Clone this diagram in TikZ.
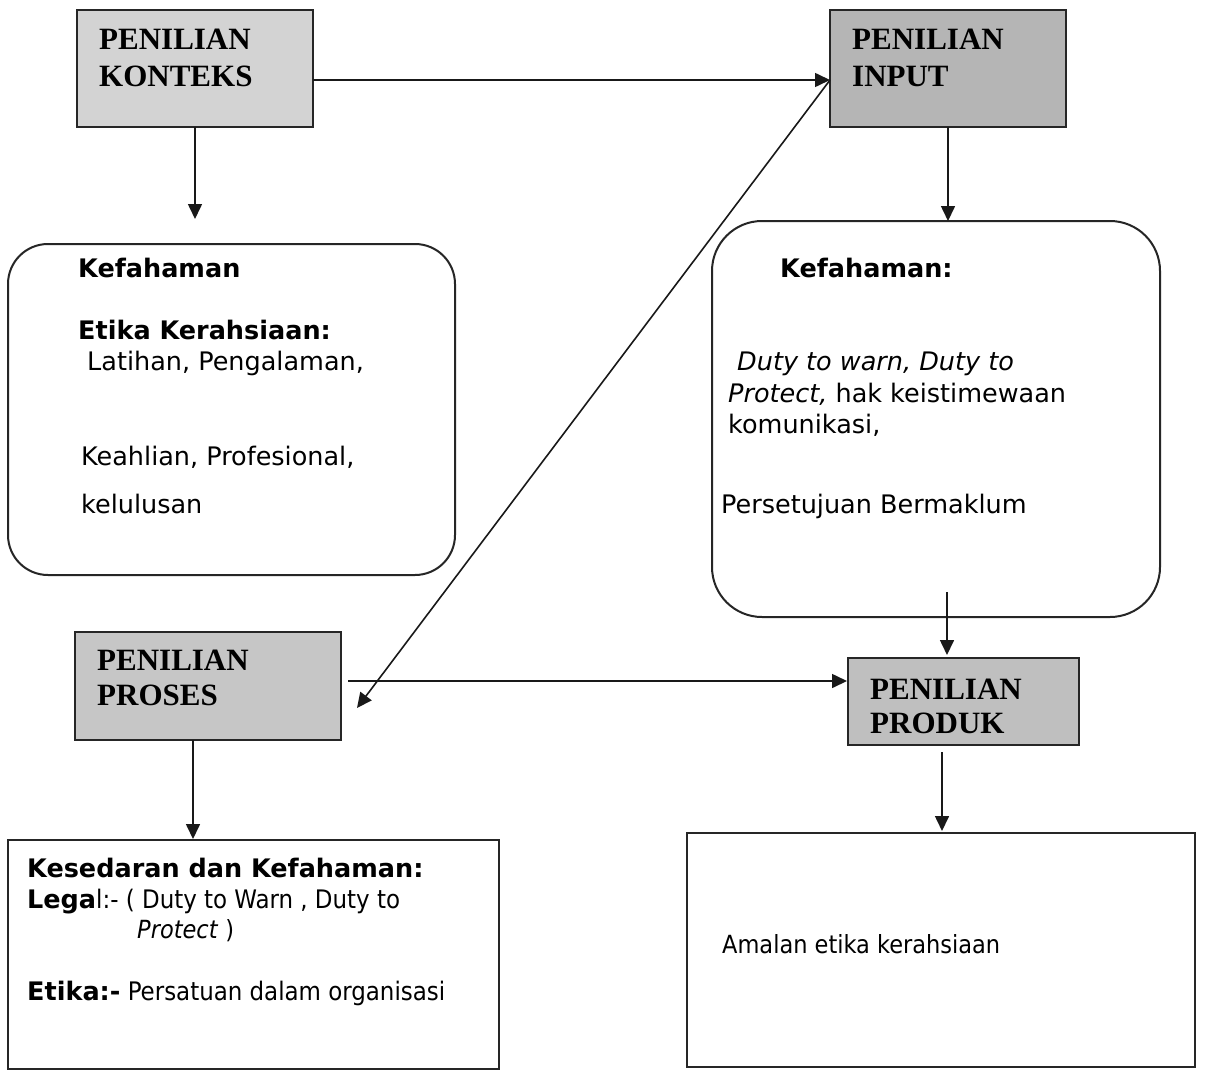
\documentclass[tikz,border=0pt]{standalone}
\usepackage{fontspec}
\setmainfont{DejaVu Sans}
\newfontfamily\headfont{Liberation Serif}
\newfontfamily\tahoma{DejaVu Sans Condensed}
\usetikzlibrary{arrows.meta}
\definecolor{gK}{HTML}{D3D3D3}
\definecolor{gI}{HTML}{B5B5B5}
\definecolor{gP}{HTML}{C6C6C6}
\definecolor{gD}{HTML}{BFBFBF}
\begin{document}
\begin{tikzpicture}[x=1pt,y=-1pt,
  hbox/.style={draw=black!85, line width=2pt, inner sep=0pt, outer sep=0pt, anchor=north west},
  rbox/.style={draw=black!85, line width=2pt, inner sep=0pt, outer sep=0pt, anchor=north west},
  head/.style={font=\headfont\bfseries\fontsize{31}{31}\selectfont, anchor=base west, inner sep=0pt},
  body/.style={font=\fontsize{25.5}{30}\selectfont, anchor=base west, inner sep=0pt},
  bodyb/.style={font=\bfseries\fontsize{25.5}{30}\selectfont, anchor=base west, inner sep=0pt},
  tah/.style={font=\tahoma\fontsize{25}{30}\selectfont, anchor=base west, inner sep=0pt},
  arr/.style={line width=1.6pt, draw=black!90, -{Triangle[length=15pt,width=14pt]}}]
\useasboundingbox[fill=white] (0,0) rectangle (1214,1073);

% heading boxes
\node[hbox, fill=gK, minimum width=236pt, minimum height=117pt] (konteks) at (77,10) {};
\node[hbox, fill=gI, minimum width=236pt, minimum height=117pt] (input) at (830,10) {};
\node[hbox, fill=gP, minimum width=266pt, minimum height=108pt] (proses) at (75,632) {};
\node[hbox, fill=gD, minimum width=231pt, minimum height=87pt] (produk) at (848,658) {};

\node[head] (kt1) at (99,50) {PENILIAN};
\node[head] (kt2) at (99,86) {KONTEKS};
\node[head] (it1) at (852,50) {PENILIAN};
\node[head] (it2) at (852,86) {INPUT};
\node[head] (pt1) at (97,670) {PENILIAN};
\node[head] (pt2) at (97,705) {PROSES};
\node[head] (dt1) at (870,699) {PENILIAN};
\node[head] (dt2) at (870,733) {PRODUK};

% rounded boxes
\node[rbox, rounded corners=40pt, minimum width=447pt, minimum height=331pt] (lbox) at (8,244) {};
\node[rbox, rounded corners=50pt, minimum width=448pt, minimum height=396pt] (rboxn) at (712,221) {};

\node[bodyb] (l1) at (78,277) {Kefahaman};
\node[bodyb] (l2) at (78,339) {Etika Kerahsiaan:};
\node[body] (l3) at (87,370) {Latihan, Pengalaman,};
\node[body] (l4) at (81,465) {Keahlian, Profesional,};
\node[body] (l5) at (81,513) {kelulusan};

\node[bodyb] (r1) at (780,277) {Kefahaman:};
\node[body] (r2) at (737,370) {\itshape Duty to warn, Duty to};
\node[body] (r3) at (728,402) {{\itshape Protect,} hak keistimewaan};
\node[body] (r4) at (728,433) {komunikasi,};
\node[body] (r5) at (721,513) {Persetujuan Bermaklum};

% bottom boxes
\node[hbox, fill=white, minimum width=491pt, minimum height=229pt] (bl) at (8,840) {};
\node[hbox, fill=white, minimum width=508pt, minimum height=234pt] (br) at (687,833) {};

\node[bodyb] (b1) at (27,877) {Kesedaran dan Kefahaman:};
\node[bodyb] (b2) at (27,908) {Lega\tahoma\mdseries l:- ( Duty to Warn , Duty to};
\node[tah] (b3) at (137,938) {\itshape Protect\/\upshape\ )};
\node[bodyb] (b4) at (27,1000) {Etika:-\tahoma\mdseries\ Persatuan dalam organisasi};
\node[tah] (b5) at (722,953) {Amalan etika kerahsiaan};

% connectors
\coordinate (k1) at (195,219);
\coordinate (pd1) at (193,839);
\coordinate (ps1) at (348,681);
\coordinate (pd2) at (847,681);
\coordinate (dg) at (357,708);
\coordinate (rs) at (947,592);
\coordinate (rt) at (947,655);
\coordinate (ds) at (942,752);
\coordinate (dt) at (942,831);

\draw[arr] ([yshift=-11.5pt]konteks.east) -- ([yshift=-11.5pt]input.west);
\draw[arr] (konteks.south) -- (konteks.south |- k1);
\draw[arr] (input.south) -- (input.south |- rboxn.north);
\draw[arr] ([yshift=-11.5pt]input.west) -- (dg);
\draw[arr] (pd1 |- proses.south) -- (pd1);
\draw[arr] (ps1) -- (pd2);
\draw[arr] (rs) -- (rt);
\draw[arr] (ds) -- (dt);
\end{tikzpicture}
\end{document}
